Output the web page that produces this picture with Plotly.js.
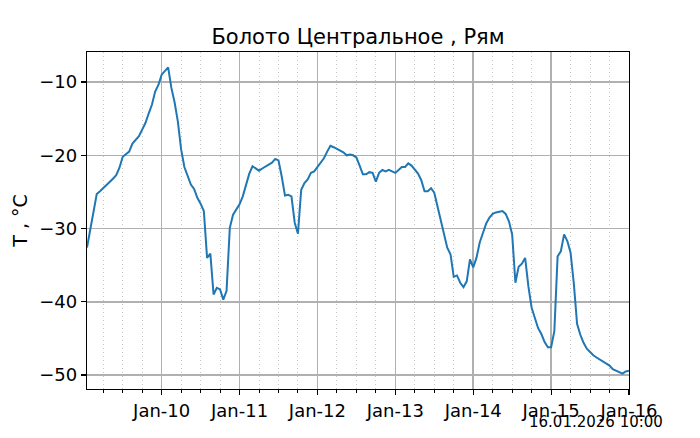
<!DOCTYPE html>
<html>
<head>
<meta charset="utf-8">
<script src="https://cdn.plot.ly/plotly-3.0.1.min.js"></script>
<style>html,body{margin:0;padding:0;background:#fff;}#chart{width:700px;height:438px;}</style>
</head>
<body>
<div id="chart"></div>
<script>
// Hourly temperature series, starting 2026-01-09 01:00
const startTime = "2026-01-09T01:00:00Z";
const temperatures = [
  -32.6, -30.1, -27.6, -25.3, -24.9, -24.5, -24.0, -23.6, -23.2, -22.7,
  -21.7, -20.2, -19.9, -19.5, -18.4, -17.9, -17.4, -16.5, -15.6, -14.3,
  -13.1, -11.3, -10.4, -9.0, -8.5, -8.0, -10.8, -12.8, -15.4, -19.2,
  -21.6, -22.8, -24.0, -24.6, -25.8, -26.6, -27.6, -34.0, -33.4, -39.0,
  -38.1, -38.3, -39.7, -38.5, -29.9, -28.1, -27.4, -26.7, -25.6, -23.9,
  -22.5, -21.5, -21.8, -22.1, -21.8, -21.5, -21.2, -21.0, -20.5, -20.7,
  -22.9, -25.5, -25.4, -25.6, -29.2, -30.7, -24.7, -23.8, -23.3, -22.4,
  -22.2, -21.6, -21.0, -20.4, -19.5, -18.7, -18.9, -19.1, -19.3, -19.6,
  -20.0, -19.9, -20.0, -20.3, -21.4, -22.6, -22.6, -22.3, -22.4, -23.6,
  -22.4, -22.0, -22.2, -22.0, -22.2, -22.4, -22.0, -21.6, -21.6, -21.1,
  -21.4, -22.0, -22.5, -23.4, -24.9, -24.9, -24.5, -25.1, -27.0, -28.6,
  -30.6, -32.6, -33.5, -36.6, -36.4, -37.4, -38.0, -37.2, -34.2, -35.3,
  -34.0, -31.9, -30.6, -29.3, -28.5, -28.0, -27.8, -27.7, -27.6, -28.0,
  -29.0, -30.8, -37.4, -35.2, -34.8, -34.0, -37.9, -40.8, -42.1, -43.6,
  -44.4, -45.5, -46.2, -46.2, -44.0, -33.8, -33.1, -30.8, -31.7, -33.3,
  -37.5, -43.0, -44.5, -45.6, -46.4, -46.9, -47.3, -47.6, -47.9, -48.2,
  -48.4, -48.7, -49.2, -49.4, -49.6, -49.8, -49.5, -49.4
];
const yTickVals = [-50, -40, -30, -20, -10];
const yTickText = ["−50", "−40", "−30", "−20", "−10"];
const titleText = "Болото Центральное , Рям";
const yTitleText = "T , °C";
const stampText = "16.01.2026 10:00";

const t0 = Date.parse(startTime);
const times = temperatures.map((_, i) =>
  new Date(t0 + i * 3600000).toISOString().slice(0, 19).replace("T", " "));

const font = "DejaVu Sans, sans-serif";
const trace = {
  x: times, y: temperatures, type: "scatter", mode: "lines",
  line: {color: "#1f77b4", width: 2}, hoverinfo: "skip"
};
const layout = {
  width: 700, height: 438,
  margin: {l: 87, r: 71, t: 52, b: 49},
  paper_bgcolor: "#fff", plot_bgcolor: "#fff",
  font: {family: font, color: "#000", size: 18},
  showlegend: false,
  title: {text: titleText, font: {size: 21, family: font, color: "#000"},
          x: 0.5, xref: "paper", xanchor: "center", y: 1 - 37/438, yanchor: "middle"},
  xaxis: {
    type: "date",
    range: [times[0], times[times.length - 1]],
    dtick: 86400000, tick0: "2026-01-10",
    tickformat: "%b-%d",
    showgrid: true, gridcolor: "#b0b0b0", gridwidth: 1.5,
    showline: true, linecolor: "#000", linewidth: 1.2, mirror: true,
    ticks: "outside", ticklen: 5, tickwidth: 1.2, tickcolor: "#000",
    tickfont: {size: 18, family: font, color: "#000"},
    zeroline: false,
    minor: {dtick: 6 * 3600000, showgrid: true, gridcolor: "#c4c4c4", griddash: "1px,3px",
            gridwidth: 1, ticks: "outside", ticklen: 3, tickcolor: "#000", tickwidth: 1}
  },
  yaxis: {
    range: [-51.9, -5.9],
    tickvals: yTickVals, ticktext: yTickText,
    showgrid: true, gridcolor: "#b0b0b0", gridwidth: 1.5,
    showline: true, linecolor: "#000", linewidth: 1.2, mirror: true,
    ticks: "outside", ticklen: 5, tickwidth: 1.2, tickcolor: "#000",
    tickfont: {size: 18, family: font, color: "#000"},
    zeroline: false,
    title: {text: yTitleText, font: {size: 19, family: font, color: "#000"}, standoff: 6}
  },
  annotations: [{
    text: stampText, xref: "paper", yref: "paper",
    x: (665 - 87) / 542, y: (389 - 422) / 337,
    xanchor: "right", yanchor: "middle", showarrow: false,
    font: {size: 15, family: font, color: "#000"}
  }]
};
Plotly.newPlot("chart", [trace], layout, {displayModeBar: false, staticPlot: true});
</script>
</body>
</html>
